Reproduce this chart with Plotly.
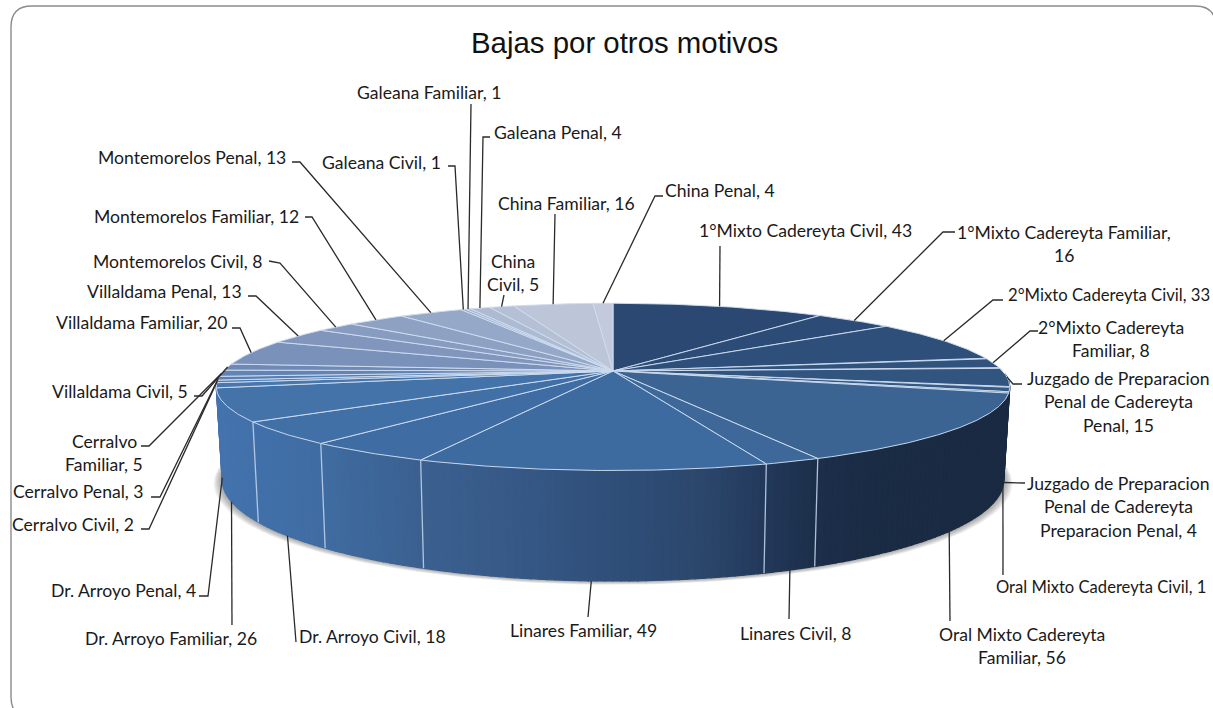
import numpy as np
import plotly.graph_objects as go

# ---------- data (clockwise from 12 o'clock) ----------
categories = [
    "1°Mixto Cadereyta Civil", "1°Mixto Cadereyta Familiar", "2°Mixto Cadereyta Civil",
    "2°Mixto Cadereyta Familiar", "Juzgado de Preparacion Penal de Cadereyta Penal",
    "Juzgado de Preparacion Penal de Cadereyta Preparacion Penal", "Oral Mixto Cadereyta Civil",
    "Oral Mixto Cadereyta Familiar", "Linares Civil", "Linares Familiar", "Linares Penal",
    "Dr. Arroyo Civil", "Dr. Arroyo Familiar", "Dr. Arroyo Penal",
    "Cerralvo Civil", "Cerralvo Penal", "Cerralvo Familiar",
    "Villaldama Civil", "Villaldama Familiar", "Villaldama Penal",
    "Montemorelos Civil", "Montemorelos Familiar", "Montemorelos Penal",
    "Galeana Civil", "Galeana Familiar", "Galeana Penal",
    "China Civil", "China Familiar", "China Penal",
]
values = [43, 16, 33, 8, 15, 4, 1, 56, 8, 49, 18, 18, 26, 4, 2, 3, 5, 5, 20, 13, 8, 12, 13, 1, 1, 4, 5, 16, 4]
title_text = "Bajas por otros motivos"

# ---------- label placement: name -> (anchor, x, y of first line, words per line, leader bend points) ----------
LINE_STEP = 23.5
placement = {
    "1°Mixto Cadereyta Civil": ("left", 697, 230, None, [(720, 246)]),
    "1°Mixto Cadereyta Familiar": ("center", 1064, 232, (3, 1), [(955, 232), (943, 232)]),
    "2°Mixto Cadereyta Civil": ("left", 1006, 295, None, [(1003, 300), (993, 300)]),
    "2°Mixto Cadereyta Familiar": ("center", 1111, 327, (2, 2), [(1038, 331), (1030, 331)]),
    "Juzgado de Preparacion Penal de Cadereyta Penal": ("center", 1118, 378, (3, 3, 2), [(1022, 384), (1013, 384)]),
    "Juzgado de Preparacion Penal de Cadereyta Preparacion Penal": ("center", 1118, 483, (3, 3, 3), [(1025, 483), (1011, 483)]),
    "Oral Mixto Cadereyta Civil": ("left", 994, 587, None, [(1003, 575)]),
    "Oral Mixto Cadereyta Familiar": ("center", 1022, 634, (3, 2), [(950, 621)]),
    "Linares Civil": ("center", 795, 633, None, [(789, 619)]),
    "Linares Familiar": ("center", 583, 630, None, [(588, 617)]),
    "Dr. Arroyo Civil": ("left", 297, 636, None, [(296, 642)]),
    "Dr. Arroyo Familiar": ("right", 259, 638, None, [(232, 625)]),
    "Dr. Arroyo Penal": ("right", 198, 590, None, [(199, 596), (208, 596)]),
    "Cerralvo Civil": ("right", 136, 524, None, [(141, 529), (149, 529)]),
    "Cerralvo Penal": ("right", 146, 491, None, [(151, 497), (160, 497)]),
    "Cerralvo Familiar": ("center", 104, 441, (1, 2), [(141, 446), (149, 446)]),
    "Villaldama Civil": ("right", 190, 391, None, [(194, 396), (202, 396)]),
    "Villaldama Familiar": ("right", 230, 322, None, [(232, 328), (240, 328)]),
    "Villaldama Penal": ("right", 244, 291, None, [(248, 296), (256, 296)]),
    "Montemorelos Civil": ("right", 264, 261, None, [(269, 261), (280, 263)]),
    "Montemorelos Familiar": ("right", 301, 216, None, [(305, 217), (312, 217)]),
    "Montemorelos Penal": ("right", 288, 157, None, [(292, 162), (300, 162)]),
    "Galeana Civil": ("right", 443, 162, None, [(448, 166), (455, 166)]),
    "Galeana Familiar": ("center", 429, 92, None, [(471, 104)]),
    "Galeana Penal": ("left", 492, 132, None, [(490, 137), (483, 137)]),
    "China Civil": ("center", 513, 261, (1, 2), [(504, 295)]),
    "China Familiar": ("center", 566, 203, None, [(555, 214)]),
    "China Penal": ("left", 663, 190, None, [(663, 196), (655, 196)]),
}
# the two labels that touch the right edge are set slightly smaller so they stay whole
size_override = {"2°Mixto Cadereyta Civil": 16.7, "Oral Mixto Cadereyta Civil": 16.6}

# ---------- 3-D pie projection ----------
CX, CY = 613.0, 371.0
A, B, K = 389.5, 80.6, 0.19
H = 89.5
BOTTOM_SCALE = 0.985
LABEL_FONT = "Lato"
LABEL_SIZE = 17.6


def project(theta_deg, bottom=False):
    t = np.radians(theta_deg)
    w = 1 + K * np.cos(t)
    x = A * np.sin(t) / w
    y = -B * np.cos(t) / w
    if bottom:
        return CX + BOTTOM_SCALE * x, CY + y + H / w
    return CX + x, CY + y


def lerp_color(stops, pos):
    ps = [s[0] for s in stops]
    rgb = [[int(s[1][i:i + 2], 16) for s in stops] for i in (1, 3, 5)]
    return "rgb(%d,%d,%d)" % tuple(round(float(np.interp(pos, ps, c))) for c in rgb)


TOP_STOPS = [(0.0, "#2a4872"), (0.14, "#325580"), (0.25, "#3b6492"), (0.32, "#3e6b9f"),
             (0.40, "#4170a8"), (0.50, "#4d7ab0"), (0.60, "#6c87b5"), (0.643, "#7a92ba"),
             (0.68, "#8296bd"), (0.75, "#8ea1c3"), (0.786, "#96a8c8"), (0.96, "#bcc5d8"), (1.0, "#c2cadc")]
WALL_STOPS = [(218, "#4473ad"), (260, "#4170a9"), (330, "#3f6ba0"), (420, "#3b6090"),
              (500, "#375a88"), (620, "#2f4e78"), (700, "#2b476c"), (766, "#23395a"),
              (818, "#1c2e49"), (880, "#1a2b44"), (1009, "#1a2a42")]
EDGE = "rgba(205,220,240,0.95)"

total = sum(values)
cum = np.concatenate([[0], np.cumsum(values)])
start_deg = cum[:-1] / total * 360
end_deg = cum[1:] / total * 360
mid_deg = (start_deg + end_deg) / 2

fig = go.Figure()


def poly(xs, ys, fill, line_color=None, line_width=0):
    fig.add_trace(go.Scatter(
        x=list(xs), y=list(ys), mode="lines", fill="toself", fillcolor=fill,
        line=dict(color=line_color or fill, width=line_width), hoverinfo="skip", showlegend=False))


# shadow
for i in range(1, 8):
    th = np.linspace(92, 268, 120)
    bx, by = project(th, bottom=True)
    poly(CX + (bx - CX) * (1 + 0.0031 * i), by + 0.55 * i, "rgba(50,50,50,0.075)")

# side wall
edges = np.arange(92.0, 269.0, 1.0)
for a0, a1 in zip(edges[:-1], edges[1:]):
    x0t, y0t = project(a0)
    x1t, y1t = project(a1)
    x0b, y0b = project(a0, True)
    x1b, y1b = project(a1, True)
    col = lerp_color(WALL_STOPS, (x0t + x1t) / 2)
    poly([x0t, x1t, x1b, x0b, x0t], [y0t, y1t, y1b, y0b, y0t], col, col, 1.2)

# slice boundaries on the wall
for d in end_deg:
    if 106 < d < 258:
        xt, yt = project(d)
        xb, yb = project(d, True)
        fig.add_trace(go.Scatter(x=[xt, xb], y=[yt, yb], mode="lines",
                                 line=dict(color="rgba(190,208,232,0.9)", width=1.3),
                                 hoverinfo="skip", showlegend=False))

# top face
n = len(values)
for i, (a0, a1) in enumerate(zip(start_deg, end_deg)):
    th = np.linspace(a0, a1, max(3, int(a1 - a0) * 2 + 2))
    xs, ys = project(th)
    poly(np.r_[CX, xs, CX], np.r_[CY, ys, CY], lerp_color(TOP_STOPS, i / (n - 1)), EDGE, 1.0)

# leaders and labels
annotations = [dict(x=624.5, y=42.5, text=title_text, showarrow=False, xanchor="center", yanchor="middle",
                    font=dict(family="Liberation Sans", size=29.4, color="#111111"))]
for name, val, d in zip(categories, values, mid_deg):
    if name not in placement:
        continue  # slice drawn without a label in the reference
    anchor, lx, ly, wrap, bends = placement[name]
    on_bottom = 101 < d < 261
    ax, ay = project(d, on_bottom)
    px = [b[0] for b in bends] + [float(ax)]
    py = [b[1] for b in bends] + [float(ay)]
    fig.add_trace(go.Scatter(x=px, y=py, mode="lines", line=dict(color="#2a2a2a", width=1.3),
                             hoverinfo="skip", showlegend=False))
    words = f"{name}, {val}".split(" ")
    lines = [" ".join(words)]
    if wrap:
        lines, pos = [], 0
        for c in wrap:
            lines.append(" ".join(words[pos:pos + c]))
            pos += c
    for j, line in enumerate(lines):
        annotations.append(dict(x=lx, y=ly + j * LINE_STEP, text=line, showarrow=False, xanchor=anchor,
                                yanchor="middle",
                                font=dict(family=LABEL_FONT, size=size_override.get(name, LABEL_SIZE), color="#1a1a1a")))

# frame
L, T, R, Bt, r = 11, 6, 1216, 718, 21
frame = (f"M{L + r},{T} L{R - r},{T} Q{R},{T} {R},{T + r} L{R},{Bt - r} Q{R},{Bt} {R - r},{Bt} "
         f"L{L + r},{Bt} Q{L},{Bt} {L},{Bt - r} L{L},{T + r} Q{L},{T} {L + r},{T} Z")

fig.update_layout(
    width=1213, height=708, margin=dict(l=0, r=0, t=0, b=0),
    paper_bgcolor="white", plot_bgcolor="white", showlegend=False,
    xaxis=dict(range=[0, 1213], visible=False, fixedrange=True),
    yaxis=dict(range=[708, 0], visible=False, fixedrange=True),
    annotations=annotations,
    shapes=[dict(type="path", path=frame, xref="x", yref="y", line=dict(color="#8c8c8c", width=1.4), layer="below")],
)
fig.write_html("out.html", config={"displayModeBar": False},
               post_script="document.body.style.margin='0';document.body.style.overflow='hidden';")
